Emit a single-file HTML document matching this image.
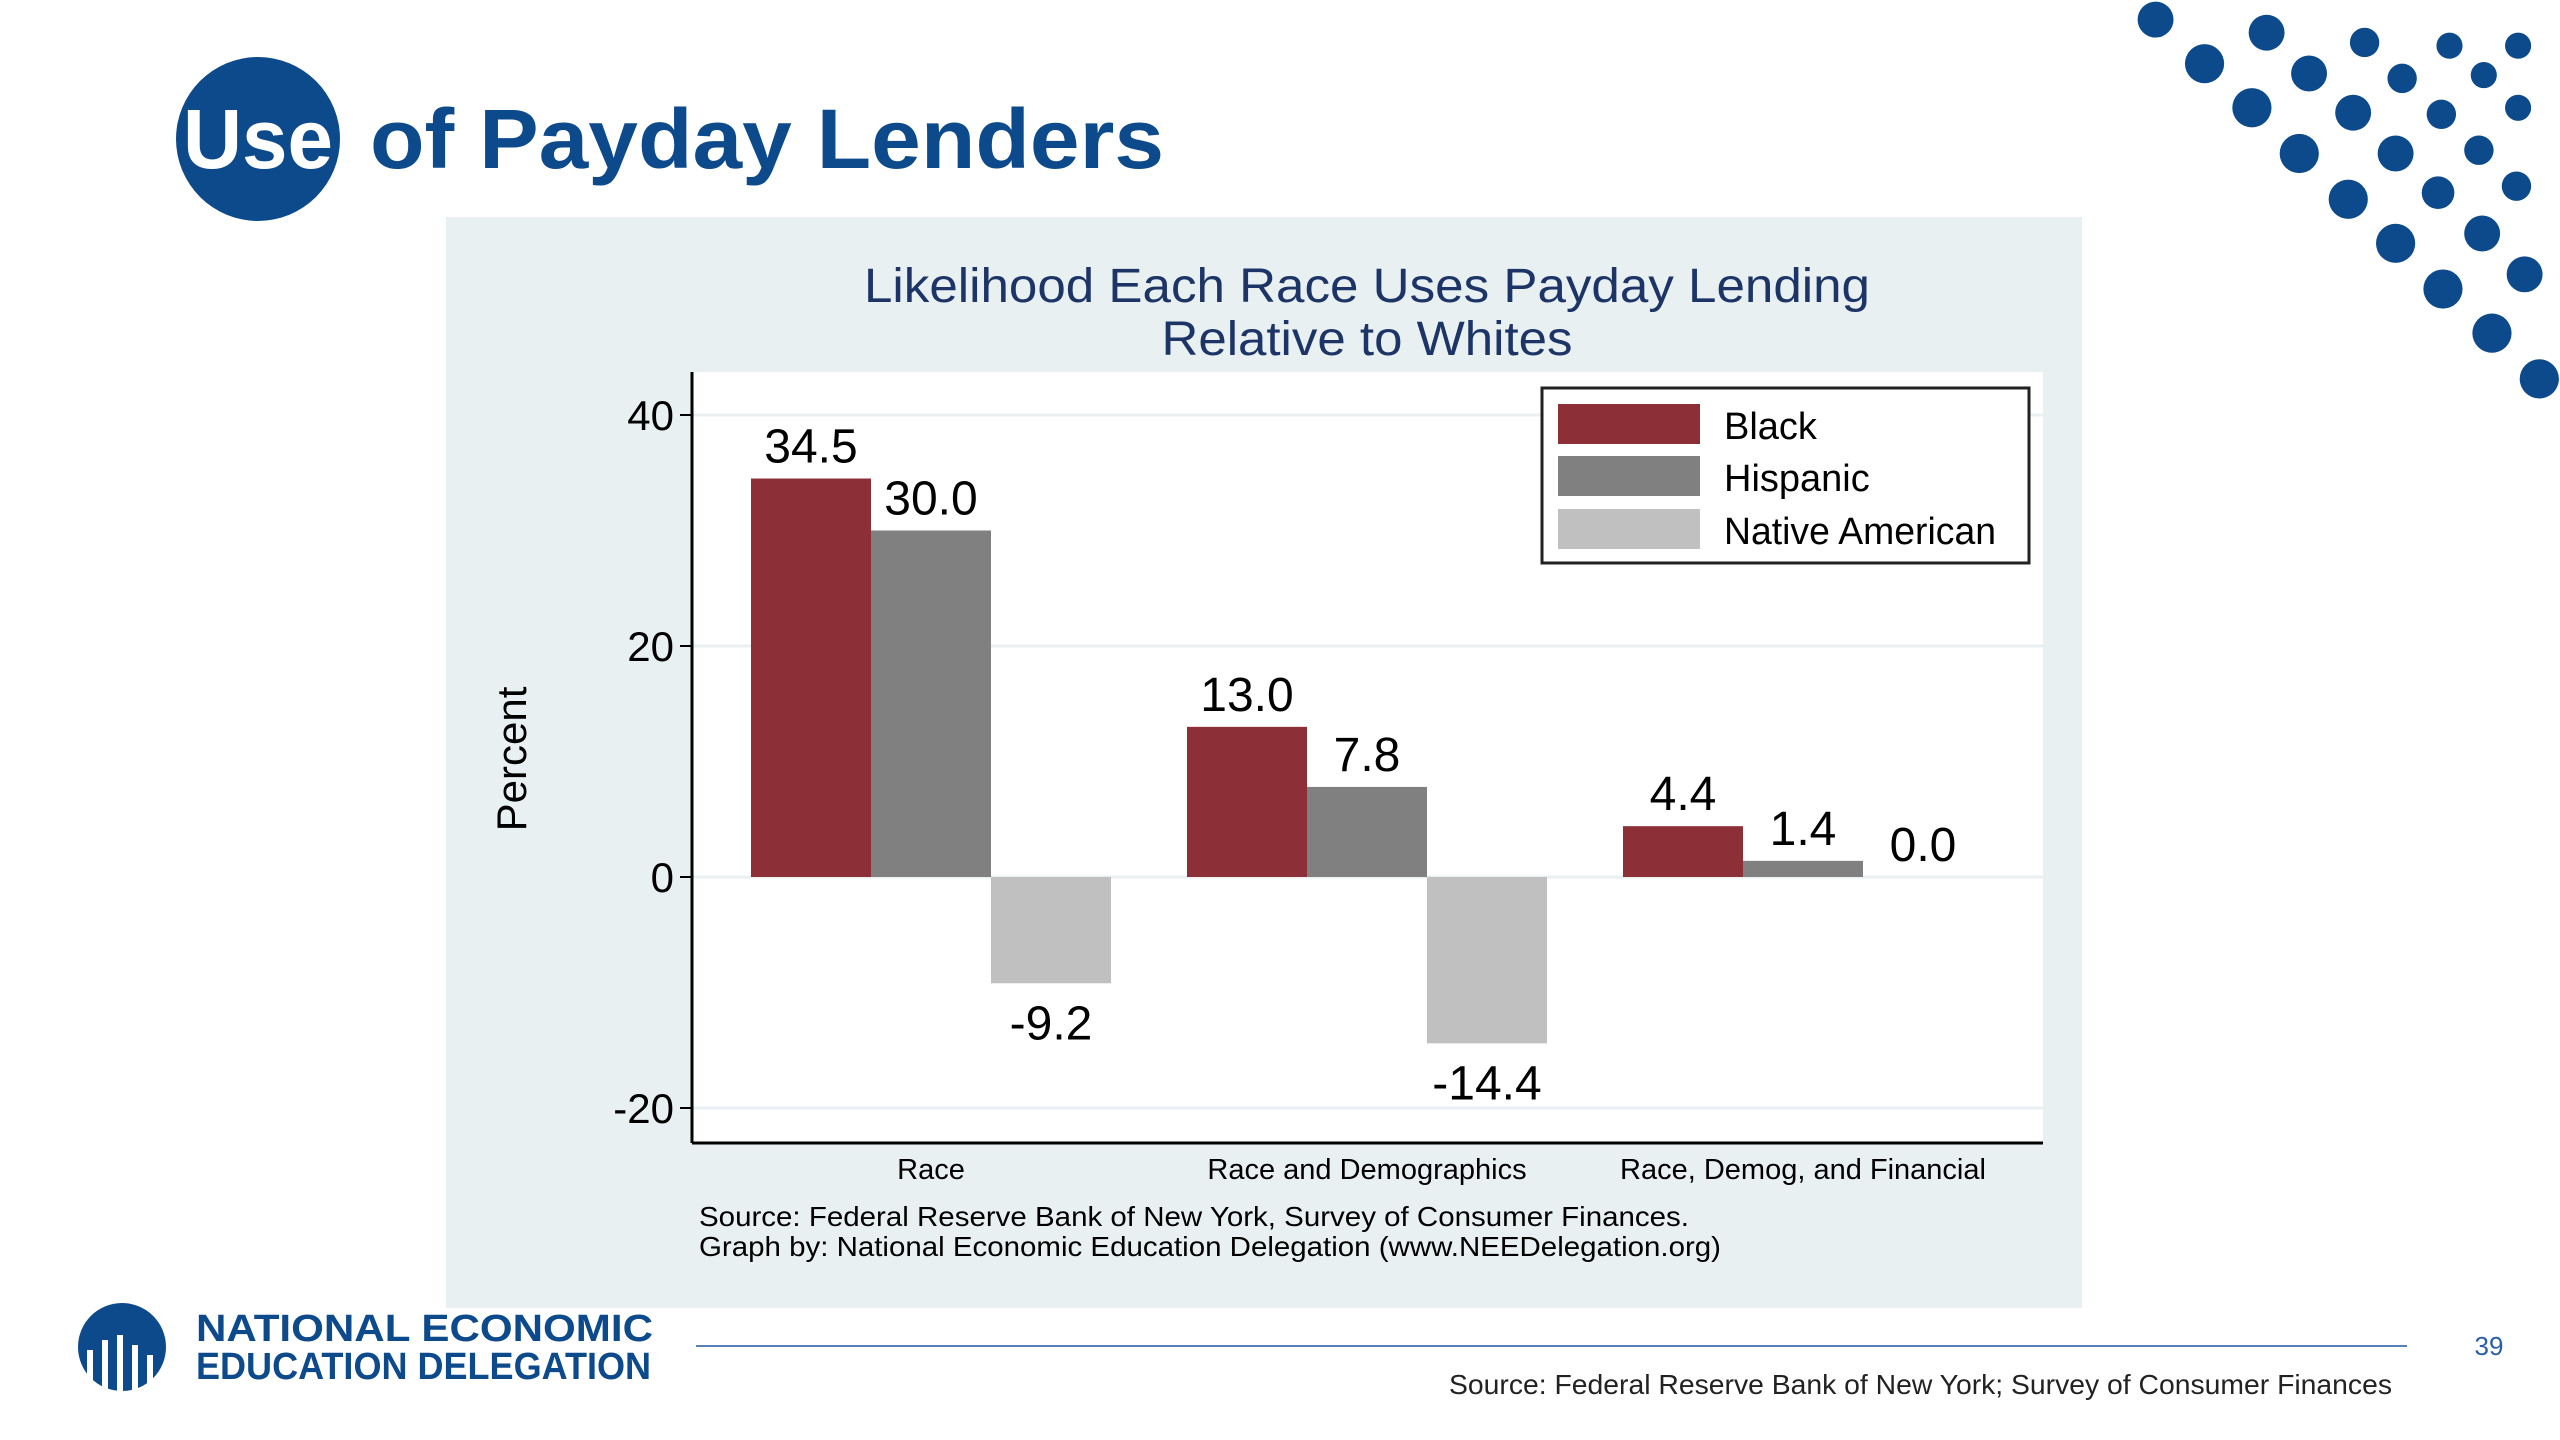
<!DOCTYPE html>
<html><head><meta charset="utf-8"><style>
html,body{margin:0;padding:0;background:#fff;}
svg{display:block;}
</style></head><body>
<svg width="2560" height="1440" viewBox="0 0 2560 1440" xmlns="http://www.w3.org/2000/svg" font-family="'Liberation Sans', sans-serif">
<g id="dots"></g>
<g>
<circle cx="258" cy="139" r="82" fill="#0d4a8c"/>
<text x="258" y="168" text-anchor="middle" font-size="84" font-weight="bold" fill="#fff" textLength="150" lengthAdjust="spacingAndGlyphs">Use</text>
<text x="370" y="168" font-size="84" font-weight="bold" fill="#0d4a8c" textLength="794" lengthAdjust="spacingAndGlyphs">of Payday Lenders</text>
</g>
<rect x="446" y="217" width="1636" height="1091" fill="#e8f0f2"/>
<g fill="#1d3566" font-size="48" text-anchor="middle">
<text x="1367" y="302" textLength="1006" lengthAdjust="spacingAndGlyphs">Likelihood Each Race Uses Payday Lending</text>
<text x="1367" y="355" textLength="411" lengthAdjust="spacingAndGlyphs">Relative to Whites</text>
</g>
<rect x="692" y="372" width="1351" height="771" fill="#fff"/>
<g id="chart"></g>
<text transform="translate(526,759) rotate(-90)" text-anchor="middle" font-size="42" fill="#000">Percent</text>
<g>
<rect x="1542" y="388" width="487" height="175" fill="#fff" stroke="#222" stroke-width="3"/>
<rect x="1558" y="404" width="142" height="40" fill="#8c2f37"/>
<text x="1724" y="439" font-size="38">Black</text>
<rect x="1558" y="456" width="142" height="40" fill="#808080"/>
<text x="1724" y="491" font-size="38">Hispanic</text>
<rect x="1558" y="509" width="142" height="40" fill="#c0c0c0"/>
<text x="1724" y="544" font-size="38" textLength="272" lengthAdjust="spacingAndGlyphs">Native American</text>
</g>
<g font-size="28" fill="#000">
<text x="699" y="1226" textLength="990" lengthAdjust="spacingAndGlyphs">Source: Federal Reserve Bank of New York, Survey of Consumer Finances.</text>
<text x="699" y="1256" textLength="1022" lengthAdjust="spacingAndGlyphs">Graph by: National Economic Education Delegation (www.NEEDelegation.org)</text>
</g>
<g>
<circle cx="122" cy="1347" r="44" fill="#0d4a8c"/>
<path d="M90 1385 L90 1350 M105 1390 L105 1340 M120 1392 L120 1335 M135 1390 L135 1345 M150 1385 L150 1355" stroke="#fff" stroke-width="6"/>
<text x="196" y="1341" font-size="38" font-weight="bold" fill="#0d4a8c" textLength="457" lengthAdjust="spacingAndGlyphs">NATIONAL ECONOMIC</text>
<text x="196" y="1379" font-size="38" font-weight="bold" fill="#0d4a8c" textLength="455" lengthAdjust="spacingAndGlyphs">EDUCATION DELEGATION</text>
</g>
<line x1="696" y1="1346" x2="2407" y2="1346" stroke="#5b7fb8" stroke-width="2"/>
<text x="2489" y="1355" text-anchor="middle" font-size="26" fill="#2a5ea8">39</text>
<text x="2392" y="1394" text-anchor="end" font-size="28" fill="#222" textLength="943" lengthAdjust="spacingAndGlyphs">Source: Federal Reserve Bank of New York; Survey of Consumer Finances</text>
</svg>
<script>
const categories = ["Race", "Race and Demographics", "Race, Demog, and Financial"];
const seriesNames = ["Black", "Hispanic", "Native American"];
const black = [34.5, 13.0, 4.4];
const hispanic = [30.0, 7.8, 1.4];
const nativeAmerican = [-9.2, -14.4, 0.0];
const yTicks = [-20, 0, 20, 40];

const NS = "http://www.w3.org/2000/svg";
const colors = ["#8c2f37", "#808080", "#c0c0c0"];
const plotLeft = 692, plotRight = 2043, plotBottom = 1143;
function y(v){ return 877 - v * (877 - 415) / 40; }
function groupX(i){ return 931 + i * 436; }
const barW = 120;
const g = document.getElementById('chart');
function mk(tag, attrs){ const e = document.createElementNS(NS, tag); for (const k in attrs) e.setAttribute(k, attrs[k]); g.appendChild(e); return e; }
yTicks.forEach(t => {
  const gl = mk('line', {x1: plotLeft, x2: plotRight, y1: y(t), y2: y(t), stroke: '#eaf0f2', 'stroke-width': 3});
  
  
  const tk = mk('line', {x1: plotLeft - 12, x2: plotLeft, y1: y(t), y2: y(t), stroke: '#000', 'stroke-width': 2});
  
  
  const lb = mk('text', {x: plotLeft - 18, y: y(t) + 15, 'text-anchor': 'end', 'font-size': 42});
  lb.textContent = String(t);
  
  
});
const series = [black, hispanic, nativeAmerican];
series.forEach((vals, s) => {
  vals.forEach((v, i) => {
    const x0 = groupX(i) - 1.5 * barW + s * barW;
    const top = Math.min(y(v), y(0)), h = Math.abs(y(v) - y(0));
    const r = mk('rect', {x: x0, y: top, width: barW, height: h, fill: colors[s]});
    
    
    const ly = v >= 0 ? y(v) - 16 : y(v) + 56;
    const t = mk('text', {x: x0 + barW / 2, y: ly, 'text-anchor': 'middle', 'font-size': 48});
    t.textContent = v.toFixed(1);
    
    
  });
});
categories.forEach((c, i) => {
  const t = mk('text', {x: groupX(i), y: 1179, 'text-anchor': 'middle', 'font-size': 29});
  t.textContent = c;
  
  
});
const ax = mk('line', {x1: plotLeft, x2: plotLeft, y1: 372, y2: plotBottom, stroke: '#000', 'stroke-width': 3});


const bx = mk('line', {x1: plotLeft, x2: plotRight, y1: plotBottom, y2: plotBottom, stroke: '#000', 'stroke-width': 3});



const dotPos = [[1320,12,11],[1388,20,11],[1448,26,9],[1500,28,8],[1542,28,8],[1350,39,12],[1414,45,11],[1471,48,9],[1521,46,8],[1379,66,12],[1441,69,11],[1495,70,9],[1542,66,8],[1408,94,12],[1467,94,11],[1518,92,9],[1438,122,12],[1493,118,10],[1541,114,9],[1467,149,12],[1520,143,11],[1496,177,12],[1546,168,11],[1526,204,12],[1555,232,12]];
const dg = document.getElementById('dots');
dotPos.forEach(p => { const c = document.createElementNS(NS, 'circle'); c.setAttribute('cx', p[0] * 1.633); c.setAttribute('cy', p[1] * 1.633); c.setAttribute('r', p[2] * 1.633); c.setAttribute('fill', '#0d4a8c'); dg.appendChild(c); });
</script>
</body></html>
